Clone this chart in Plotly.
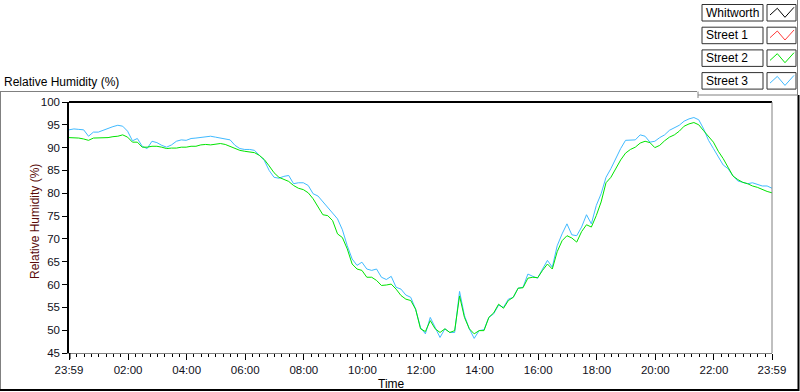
import plotly.graph_objects as go
import pandas as pd

# ---------------- data ----------------
START = "2000-01-01 23:59"
END = "2000-01-02 23:59"
SAMPLE_FREQ = "10min"

series_names = ["Whitworth", "Street 1", "Street 2", "Street 3"]
series_colors = ["#000000", "#FF3C3C", "#00E400", "#40BAFF"]

street2 = [
    92.2, 92.2, 92.1, 91.9, 91.6, 92.1, 92.1, 92.2, 92.2, 92.4,
    92.5, 92.8, 92.3, 91.2, 91.2, 90.1, 90.1, 90.3, 90.3, 90.1,
    89.8, 89.9, 89.9, 90.1, 90.1, 90.3, 90.3, 90.6, 90.7, 90.6,
    90.8, 90.9, 90.7, 90.3, 89.9, 89.4, 89.2, 89.0, 88.9, 88.3,
    87.4, 86.0, 84.5, 83.5, 83.0, 82.6, 81.7, 81.1, 80.8, 80.1,
    78.8, 77.0, 75.3, 75.1, 74.0, 71.1, 70.3, 67.8, 64.5, 63.4,
    63.1, 61.6, 61.6, 60.9, 59.8, 59.9, 60.1, 59.0, 57.6, 56.8,
    56.5, 54.6, 50.3, 49.7, 52.1, 50.3, 49.5, 50.3, 49.5, 49.9,
    57.5, 52.8, 50.3, 49.2, 49.9, 49.9, 52.8, 53.8, 55.7, 54.8,
    56.5, 57.2, 59.2, 59.3, 61.4, 61.6, 61.5, 63.1, 64.5, 63.4,
    67.2, 69.6, 70.7, 70.2, 69.3, 71.6, 73.1, 72.6, 75.1, 78.1,
    82.3, 83.5, 85.5, 87.3, 88.8, 89.6, 90.1, 91.0, 91.4, 91.1,
    90.0, 90.5, 91.5, 92.3, 92.8, 93.6, 94.7, 95.2, 95.5, 95.0,
    93.7, 92.5, 91.2, 89.2, 87.6, 85.7, 83.8, 83.0, 82.4, 82.1,
    81.6, 81.3, 80.8, 80.4, 80.1,
]

street3 = [
    93.9, 94.1, 94.0, 93.9, 92.5, 93.4, 93.4, 93.8, 94.3, 94.6,
    94.9, 94.7, 93.6, 91.5, 92.0, 90.3, 89.8, 91.4, 91.1, 90.5,
    90.1, 90.6, 91.4, 91.7, 91.6, 92.0, 92.1, 92.2, 92.4, 92.5,
    92.3, 92.1, 92.0, 91.7, 90.5, 89.8, 89.6, 89.6, 89.4, 88.3,
    87.2, 85.0, 83.5, 83.3, 83.7, 83.9, 82.1, 82.3, 82.3, 81.7,
    79.9, 79.4, 78.2, 77.0, 75.7, 74.4, 72.0, 68.5, 65.6, 64.2,
    64.9, 63.4, 63.1, 63.4, 61.6, 61.1, 61.8, 59.4, 59.0, 57.7,
    57.2, 54.6, 50.6, 49.2, 52.8, 50.6, 48.4, 50.3, 49.5, 49.5,
    58.5, 53.2, 50.3, 48.2, 49.9, 50.1, 52.8, 53.6, 55.5, 55.0,
    56.8, 57.2, 59.2, 59.4, 62.3, 61.8, 61.4, 63.4, 65.3, 63.8,
    68.5, 71.1, 73.3, 70.9, 70.7, 72.6, 75.3, 73.3, 77.3, 79.9,
    83.5, 85.4, 87.6, 89.8, 91.6, 91.7, 91.7, 92.8, 92.5, 91.2,
    91.4, 92.2, 92.8, 93.8, 94.3, 94.9, 95.8, 96.3, 96.6, 96.1,
    94.1, 91.6, 89.8, 87.9, 86.2, 85.4, 83.8, 82.7, 82.4, 82.1,
    82.3, 81.9, 81.6, 81.6, 81.1,
]

y_ticks = [45, 50, 55, 60, 65, 70, 75, 80, 85, 90, 95, 100]
x_tick_labels = ["23:59", "02:00", "04:00", "06:00", "08:00", "10:00", "12:00",
                 "14:00", "16:00", "18:00", "20:00", "22:00", "23:59"]
x_tick_times = ["2000-01-01 23:59", "2000-01-02 02:00", "2000-01-02 04:00",
                "2000-01-02 06:00", "2000-01-02 08:00", "2000-01-02 10:00",
                "2000-01-02 12:00", "2000-01-02 14:00", "2000-01-02 16:00",
                "2000-01-02 18:00", "2000-01-02 20:00", "2000-01-02 22:00",
                "2000-01-02 23:59"]

# ---------------- layout constants ----------------
W, H = 800, 392
L, R, T, B = 69, 28, 102, 39
PW, PH = W - L - R, H - T - B
FONT = "Liberation Sans"


def px(x):
    return (x - L) / PW


def py(y):
    return (H - B - y) / PH


times = pd.date_range(START, periods=len(street2), freq=SAMPLE_FREQ)

fig = go.Figure()
fig.add_trace(go.Scatter(x=times, y=street3, mode="lines", name=series_names[3],
                         line=dict(color=series_colors[3], width=1), showlegend=False))
fig.add_trace(go.Scatter(x=times, y=street2, mode="lines", name=series_names[2],
                         line=dict(color=series_colors[2], width=1), showlegend=False))

shapes = []
annotations = []

# plot frame
shapes.append(dict(type="line", xref="paper", yref="paper", x0=0, x1=1, y0=1, y1=1,
                   line=dict(color="black", width=2)))
shapes.append(dict(type="line", xref="paper", yref="paper", x0=1, x1=1, y0=0, y1=1,
                   line=dict(color="#808080", width=1)))
# bold first tick
shapes.append(dict(type="line", xref="x", yref="paper", x0=START, x1=START,
                   y0=py(353), y1=py(359), line=dict(color="black", width=3)))

# outer panel frame
shapes.append(dict(type="line", xref="paper", yref="paper", x0=px(0), x1=px(697),
                   y0=py(91.5), y1=py(91.5), line=dict(color="#808080", width=1)))
shapes.append(dict(type="line", xref="paper", yref="paper", x0=px(0.5), x1=px(0.5),
                   y0=py(91.5), y1=py(390), line=dict(color="#808080", width=1)))
shapes.append(dict(type="line", xref="paper", yref="paper", x0=px(0), x1=px(799),
                   y0=py(390), y1=py(390), line=dict(color="black", width=2)))
shapes.append(dict(type="line", xref="paper", yref="paper", x0=px(798.5), x1=px(798.5),
                   y0=py(95), y1=py(391), line=dict(color="black", width=2)))
# legend panel border
shapes.append(dict(type="line", xref="paper", yref="paper", x0=px(797.5), x1=px(797.5),
                   y0=py(0), y1=py(95), line=dict(color="#808080", width=1)))
shapes.append(dict(type="line", xref="paper", yref="paper", x0=px(698), x1=px(797.5),
                   y0=py(95), y1=py(95), line=dict(color="#808080", width=1)))
shapes.append(dict(type="line", xref="paper", yref="paper", x0=px(698), x1=px(698),
                   y0=py(91.5), y1=py(98), line=dict(color="#808080", width=1)))

# legend entries
for i, (name, col) in enumerate(zip(series_names, series_colors)):
    top = 4.5 + 22.7 * i
    bot = top + 16.5
    shapes.append(dict(type="rect", xref="paper", yref="paper",
                       x0=px(702), x1=px(763), y0=py(bot), y1=py(top),
                       line=dict(color="#303030", width=1), fillcolor="white"))
    shapes.append(dict(type="rect", xref="paper", yref="paper",
                       x0=px(767), x1=px(796), y0=py(bot), y1=py(top),
                       line=dict(color="#303030", width=1), fillcolor="white"))
    pts = [(770, top + 10.5), (777.3, top + 3.8), (785, top + 12.8), (794, top + 2.8)]
    path = "M " + " L ".join(f"{px(a):.5f},{py(b):.5f}" for a, b in pts)
    shapes.append(dict(type="path", xref="paper", yref="paper", path=path,
                       line=dict(color=col, width=1)))
    annotations.append(dict(text=name, xref="paper", yref="paper", x=px(704),
                            y=py((top + bot) / 2), xanchor="left", yanchor="middle",
                            showarrow=False, font=dict(family=FONT, size=12, color="black")))

# texts
annotations.append(dict(text="Relative Humidity (%)", xref="paper", yref="paper",
                        x=px(2), y=py(82), xanchor="left", yanchor="middle", showarrow=False,
                        font=dict(family=FONT, size=12, color="black")))
annotations.append(dict(text="Relative Humidity (%)", xref="paper", yref="paper",
                        x=px(35), y=py(222), xanchor="center", yanchor="middle",
                        textangle=-90, showarrow=False,
                        font=dict(family=FONT, size=12, color="#5a0a0a")))
annotations.append(dict(text="Time", xref="paper", yref="paper",
                        x=px(391), y=py(384), xanchor="center", yanchor="middle",
                        showarrow=False, font=dict(family=FONT, size=12, color="black")))

fig.update_layout(
    width=W, height=H,
    margin=dict(l=L, r=R, t=T, b=B),
    paper_bgcolor="white", plot_bgcolor="white",
    showlegend=False,
    shapes=shapes, annotations=annotations,
    font=dict(family=FONT, size=11.5, color="#101020"),
    xaxis=dict(type="date", range=[START, END], tickmode="array",
               tickvals=x_tick_times, ticktext=x_tick_labels,
               showgrid=False, zeroline=False,
               showline=True, linecolor="#808080", linewidth=1,
               ticks="outside", ticklen=6, tickcolor="black", tickwidth=1,
               minor=dict(ticks="outside", ticklen=3, tickcolor="black",
                          dtick=900000, tick0="2000-01-02 00:00", showgrid=False),
               tickfont=dict(family=FONT, size=11.5, color="#101020")),
    yaxis=dict(range=[45, 100], tickmode="array", tickvals=y_ticks,
               showgrid=False, zeroline=False,
               showline=True, linecolor="black", linewidth=1.5,
               ticks="outside", ticklen=5, tickcolor="black", tickwidth=1,
               tickfont=dict(family=FONT, size=11.5, color="#101020")),
)

fig.write_html("out.html", config={"displayModeBar": False},
               post_script="document.body.style.margin='0';")
